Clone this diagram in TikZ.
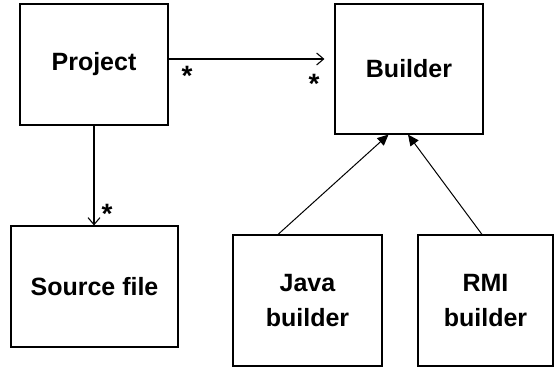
\documentclass[tikz,border=0pt]{standalone}
\usepackage{fontspec}
\setmainfont{Liberation Sans}
\usetikzlibrary{arrows.meta}
\tikzset{
  cls/.style={draw,line width=1.1pt,inner sep=0pt,align=center,
    font=\fontsize{25}{35}\selectfont\bfseries},
  assoc/.style={line width=1.1pt,-{Straight Barb[length=7pt,width=12pt,line width=1.1pt]}},
  inherit/.style={line width=1pt,-{Triangle[length=11pt,width=10pt]}},
  mult/.style={inner sep=0pt,anchor=base,font=\fontsize{28}{28}\selectfont\bfseries}
}
\begin{document}
\begin{tikzpicture}[x=1pt,y=-1pt]
  \useasboundingbox (0,0) rectangle (556,367);
  % classes
  \node[cls,minimum width=148pt,minimum height=121pt] (Project) at (94,64.5) {Project};
  \node[cls,minimum width=148pt,minimum height=130pt] (Builder) at (409,69) {Builder};
  \node[cls,minimum width=167pt,minimum height=121pt] (Source) at (94.5,286.5) {Source file};
  \node[cls,minimum width=149pt,minimum height=131pt] (Java) at (307.5,300.5) {Java\\builder};
  \node[cls,minimum width=135pt,minimum height=131pt] (RMI) at (485.5,300.5) {RMI\\builder};
  % associations
  \draw[assoc,shorten >=10pt] ([yshift=5.5pt]Project.east) -- ([yshift=10pt]Builder.west);
  \draw[assoc] (Project.south) -- (Project.south |- Source.north);
  % multiplicities
  \node[mult] (m1) at (187,85) {*};
  \node[mult] (m2) at (314,93) {*};
  \node[mult] (m3) at (107,223) {*};
  % generalizations
  \draw[inherit] ([xshift=-29.5pt]Java.north) -- ([xshift=-20.5pt]Builder.south);
  \draw[inherit] ([xshift=-3.5pt]RMI.north) -- ([xshift=-1pt]Builder.south);
\end{tikzpicture}
\end{document}
